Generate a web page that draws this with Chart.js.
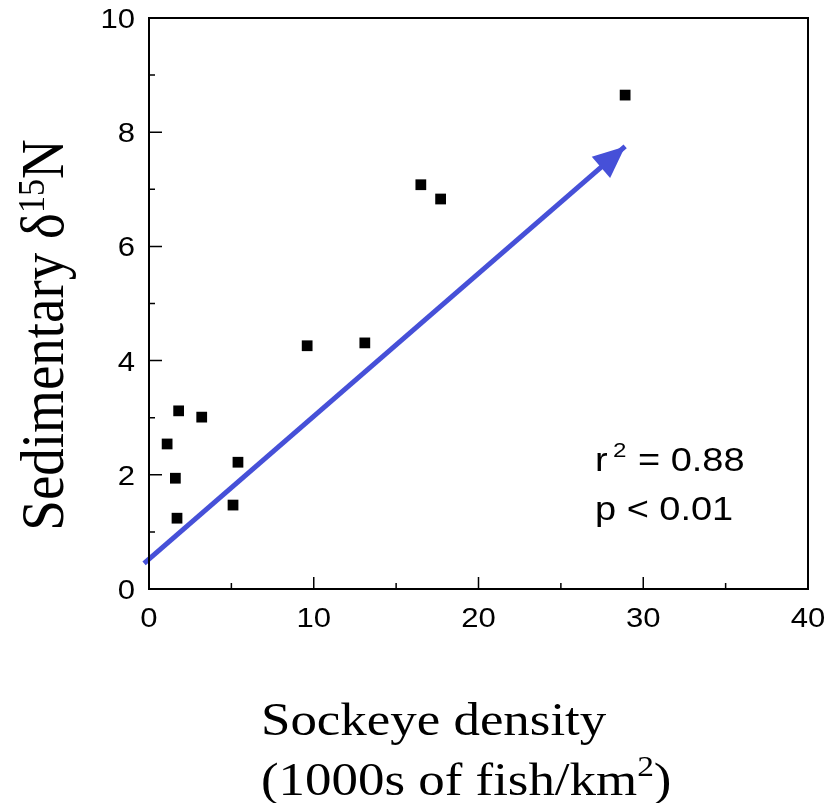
<!DOCTYPE html>
<html>
<head>
<meta charset="utf-8">
<script src="https://cdn.jsdelivr.net/npm/chart.js@4/dist/chart.umd.min.js"></script>
<style>
  html, body { margin: 0; padding: 0; background: #fff; }
  #wrap { width: 835px; height: 803px; }
</style>
</head>
<body>
<div id="wrap"><canvas id="sockeyeChart" width="835" height="803"></canvas></div>
<script>
// sockeye density (1000s fish/km2) vs sedimentary d15N
const densityX = [1.1, 1.6, 1.7, 1.8, 3.2, 5.1, 5.4, 9.6, 13.1, 16.5, 17.7, 28.9];
const d15nY = [2.54, 1.94, 1.24, 3.12, 3.01, 1.47, 2.22, 4.26, 4.31, 7.08, 6.83, 8.65];
// trend arrow, start and tip
const arrowX = [-0.3, 28.9];
const arrowY = [0.45, 7.75];
const xTicks = [0, 10, 20, 30, 40];
const yTicks = [0, 2, 4, 6, 8, 10];
const statLines = ["= 0.88", "p < 0.01"];

const blue = "#4650d8";
const sans = "'Liberation Sans', Arial, sans-serif";
const serif = "'Liberation Serif', 'Times New Roman', serif";
const SX = 1.15; // the original figure is a bit wider than tall

// draw text stretched horizontally, x is the left edge (or anchor by align)
function wideText(ctx, txt, x, y, align) {
  const w = ctx.measureText(txt).width * SX;
  let left = x;
  if (align === "center") left = x - w / 2;
  if (align === "right") left = x - w;
  ctx.save();
  ctx.translate(left, y);
  ctx.scale(SX, 1);
  ctx.textAlign = "left";
  ctx.fillText(txt, 0, 0);
  ctx.restore();
  return w;
}

const framePlugin = {
  id: "frame",
  afterDatasetsDraw(chart) {
    const { ctx, chartArea: a, scales } = chart;
    const xs = scales.x, ys = scales.y;
    ctx.save();
    // arrow head
    const meta = chart.getDatasetMeta(1);
    const p0 = meta.data[0], p1 = meta.data[1];
    const ang = Math.atan2(p1.y - p0.y, p1.x - p0.x);
    const len = 32, half = 14;
    ctx.fillStyle = blue;
    ctx.beginPath();
    ctx.moveTo(p1.x, p1.y);
    ctx.lineTo(p1.x - len * Math.cos(ang) + half * Math.sin(ang), p1.y - len * Math.sin(ang) - half * Math.cos(ang));
    ctx.lineTo(p1.x - len * Math.cos(ang) - half * Math.sin(ang), p1.y - len * Math.sin(ang) + half * Math.cos(ang));
    ctx.closePath();
    ctx.fill();

    // box
    ctx.strokeStyle = "#000";
    ctx.lineWidth = 2;
    ctx.strokeRect(a.left, a.top, a.right - a.left, a.bottom - a.top);

    // inward ticks
    ctx.lineWidth = 1.5;
    ctx.beginPath();
    for (let v = 0; v <= 40; v += 5) {
      const px = xs.getPixelForValue(v);
      const l = v % 10 === 0 ? 12 : 6;
      ctx.moveTo(px, a.bottom);
      ctx.lineTo(px, a.bottom - l);
    }
    for (let v = 0; v <= 10; v += 1) {
      const py = ys.getPixelForValue(v);
      const l = v % 2 === 0 ? 13 : 6;
      ctx.moveTo(a.left, py);
      ctx.lineTo(a.left + l, py);
    }
    ctx.stroke();

    // tick labels
    ctx.fillStyle = "#000";
    ctx.textBaseline = "alphabetic";
    ctx.font = "27px " + sans;
    xs.ticks.forEach((t) => {
      wideText(ctx, String(t.value), xs.getPixelForValue(t.value), a.bottom + 38, "center");
    });
    ys.ticks.forEach((t) => {
      wideText(ctx, String(t.value), a.left - 14, ys.getPixelForValue(t.value) + 10, "right");
    });

    // stats annotation
    ctx.font = "33px " + sans;
    wideText(ctx, "r", 595, 471);
    ctx.font = "21px " + sans;
    wideText(ctx, "2", 613, 457);
    ctx.font = "33px " + sans;
    wideText(ctx, statLines[0], 638, 471);
    wideText(ctx, statLines[1], 595, 520);

    // x title
    ctx.font = "46px " + serif;
    wideText(ctx, "Sockeye density", 261, 735);
    let cx = 261;
    cx += wideText(ctx, "(1000s of fish/km", cx, 795);
    ctx.font = "29px " + serif;
    cx += wideText(ctx, "2", cx, 776);
    ctx.font = "46px " + serif;
    wideText(ctx, ")", cx, 795);

    // y title rotated
    ctx.translate(63, 335);
    ctx.rotate(-Math.PI / 2);
    ctx.scale(1, 1.1);
    ctx.textAlign = "left";
    const yA = "Sedimentary \u03b4", yB = "15", yC = "N";
    ctx.font = "55px " + serif;
    const ya = ctx.measureText(yA).width, yc = ctx.measureText(yC).width;
    ctx.font = "34px " + serif;
    const yb = ctx.measureText(yB).width;
    const sy = -(ya + yb + yc) / 2;
    ctx.font = "55px " + serif;
    ctx.fillText(yA, sy, 0);
    ctx.font = "34px " + serif;
    ctx.fillText(yB, sy + ya, -17);
    ctx.font = "55px " + serif;
    ctx.fillText(yC, sy + ya + yb, 0);
    ctx.restore();
  }
};

new Chart(document.getElementById("sockeyeChart"), {
  type: "scatter",
  data: {
    datasets: [
      {
        label: "Lakes",
        data: densityX.map((x, i) => ({ x: x, y: d15nY[i] })),
        pointStyle: "rect",
        pointRadius: 7.6,
        pointBackgroundColor: "#000",
        pointBorderWidth: 0,
        order: 2,
      },
      {
        label: "Trend",
        type: "line",
        data: arrowX.map((x, i) => ({ x: x, y: arrowY[i] })),
        borderColor: blue,
        borderWidth: 5,
        pointRadius: 0,
        fill: false,
        clip: false,
        order: 1,
      },
    ],
  },
  options: {
    responsive: false,
    animation: false,
    devicePixelRatio: 1,
    layout: { padding: { left: 0, top: 18, right: 27, bottom: 0 } },
    plugins: { legend: { display: false }, tooltip: { enabled: false } },
    scales: {
      x: {
        type: "linear",
        min: 0,
        max: 40,
        afterBuildTicks: (s) => { s.ticks = xTicks.map((v) => ({ value: v })); },
        afterFit: (s) => { s.height = 214; s.paddingLeft = 0; s.paddingRight = 0; },
        grid: { display: false },
        border: { display: false },
        ticks: { display: false },
      },
      y: {
        type: "linear",
        min: 0,
        max: 10,
        afterBuildTicks: (s) => { s.ticks = yTicks.map((v) => ({ value: v })); },
        afterFit: (s) => { s.width = 149; s.paddingTop = 0; s.paddingBottom = 0; },
        grid: { display: false },
        border: { display: false },
        ticks: { display: false },
      },
    },
  },
  plugins: [framePlugin],
});
</script>
</body>
</html>
